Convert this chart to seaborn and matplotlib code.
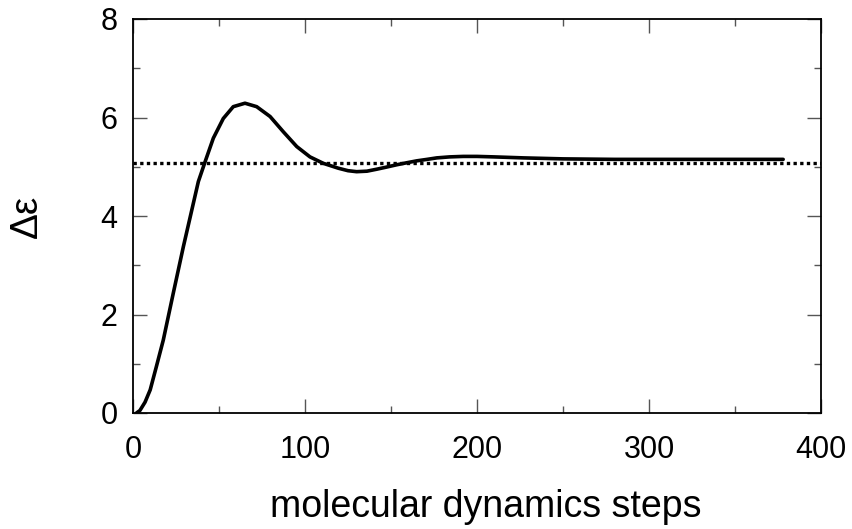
import numpy as np
import pandas as pd
import seaborn as sns
import matplotlib
matplotlib.use("Agg")
import matplotlib.pyplot as plt
from matplotlib.ticker import MultipleLocator

steps = [2, 4, 7, 10, 13.5, 17.6, 23.4, 29.3, 35.1, 38.0, 41.9, 46.7, 52.5, 58.3,
         65.1, 71.9, 79.7, 87.4, 95.2, 102.9, 110.6, 119.4, 125, 130, 136, 141.7,
         147, 153.3, 159, 165, 171, 176.6, 184, 192, 200, 210, 227, 250, 280, 310,
         340, 378]
delta_eps = [0.0, 0.05, 0.22, 0.47, 0.93, 1.48, 2.43, 3.38, 4.26, 4.70, 5.10, 5.58,
             5.98, 6.22, 6.29, 6.22, 6.02, 5.71, 5.41, 5.20, 5.07, 4.97, 4.92, 4.90,
             4.91, 4.95, 4.99, 5.04, 5.08, 5.12, 5.15, 5.18, 5.20, 5.21, 5.21, 5.20,
             5.18, 5.16, 5.15, 5.15, 5.15, 5.15]
reference_level = 5.08

x_ticks = [0, 100, 200, 300, 400]
y_ticks = [0, 2, 4, 6, 8]

sns.set_style("ticks")
plt.rcParams['font.family'] = ['Liberation Sans', 'DejaVu Sans']
plt.rcParams['text.color'] = 'black'
plt.rcParams['axes.labelcolor'] = 'black'
plt.rcParams['xtick.labelcolor'] = 'black'
plt.rcParams['ytick.labelcolor'] = 'black'

df = pd.DataFrame({"steps": steps, "delta_eps": delta_eps})

fig = plt.figure(figsize=(8.52, 5.29), dpi=100)
ax = fig.add_axes([133/852, 1-413/529, (821-133)/852, (413-19)/529])

sns.lineplot(data=df, x="steps", y="delta_eps", ax=ax, color="black", linewidth=2.6)
ax.axhline(reference_level, color="black", linewidth=2.4, linestyle=(0, (1, 1)))

ax.set_xlim(0, 400)
ax.set_ylim(0, 8)
ax.set_xticks(x_ticks)
ax.set_yticks(y_ticks)
ax.xaxis.set_minor_locator(MultipleLocator(50))
ax.yaxis.set_minor_locator(MultipleLocator(1))

ax.tick_params(which="both", direction="in", top=True, right=True, color="#555555", width=1.0,
               labelcolor="black")
ax.tick_params(which="major", length=10)
ax.tick_params(which="minor", length=5)
ax.tick_params(axis="x", which="major", labelsize=22, pad=16)
ax.tick_params(axis="y", which="major", labelsize=22, pad=11)

for s in ax.spines.values():
    s.set_linewidth(1.3)
    s.set_color("black")

ax.set_xlabel("molecular dynamics steps", fontsize=27, color="black")
ax.set_ylabel("Δε", fontsize=28, color="black")
ax.xaxis.set_label_coords((486-133)/(821-133), -(517-413)/(413-19), transform=ax.transAxes)
ax.xaxis.label.set_va("baseline")
ax.yaxis.set_label_coords(-(133-27)/(821-133), 0.5, transform=ax.transAxes)
ax.yaxis.label.set_va("center")

fig.savefig("out.png", dpi=100)
